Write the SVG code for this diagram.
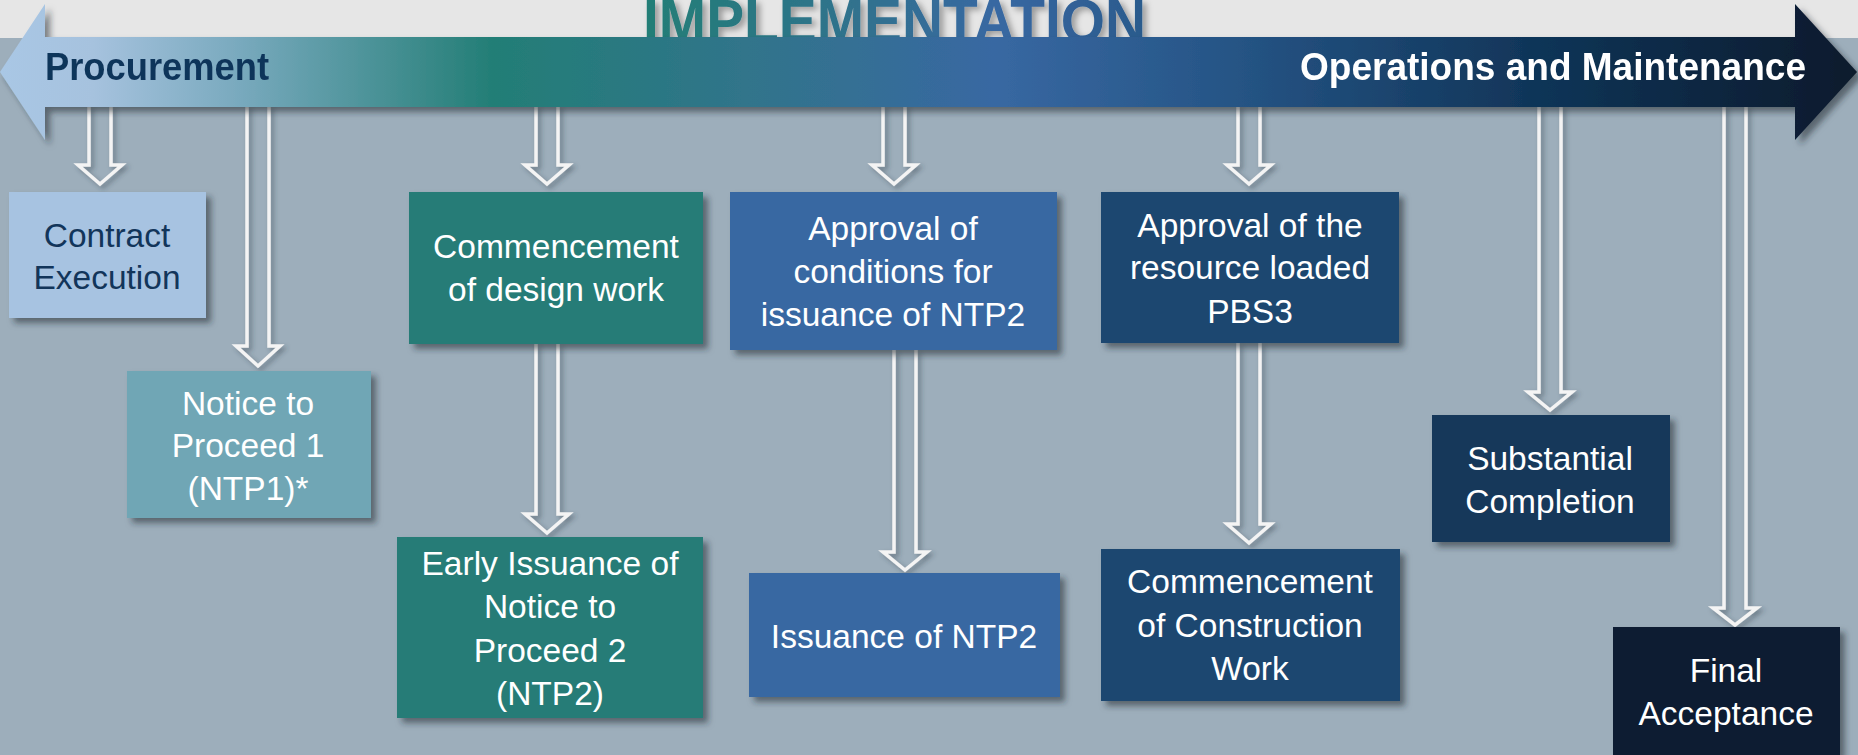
<svg xmlns="http://www.w3.org/2000/svg" width="1858" height="755" viewBox="0 0 1858 755">
<defs>
<linearGradient id="band" gradientUnits="userSpaceOnUse" x1="0" y1="0" x2="1858" y2="0">
<stop offset="0" stop-color="#a9c7e5"/>
<stop offset="0.05" stop-color="#a6c2de"/>
<stop offset="0.13" stop-color="#78a9bd"/>
<stop offset="0.265" stop-color="#237e76"/>
<stop offset="0.43" stop-color="#33728f"/>
<stop offset="0.535" stop-color="#3868a2"/>
<stop offset="0.66" stop-color="#265586"/>
<stop offset="0.82" stop-color="#11365a"/>
<stop offset="1" stop-color="#0a1a2c"/>
</linearGradient>
<linearGradient id="title" gradientUnits="userSpaceOnUse" x1="643" y1="0" x2="1147" y2="0">
<stop offset="0" stop-color="#237e76"/>
<stop offset="0.45" stop-color="#31718f"/>
<stop offset="0.7" stop-color="#3868a2"/>
<stop offset="1" stop-color="#2a5a8c"/>
</linearGradient>
<filter id="sh" x="-10%" y="-10%" width="130%" height="130%">
<feDropShadow dx="5" dy="5" stdDeviation="3" flood-color="#1c2630" flood-opacity="0.55"/>
</filter>
<filter id="ash" x="-20%" y="-20%" width="160%" height="160%">
<feDropShadow dx="3" dy="3" stdDeviation="2.5" flood-color="#2a3845" flood-opacity="0.45"/>
</filter>
<filter id="tsh" x="-5%" y="-50%" width="110%" height="200%">
<feDropShadow dx="4" dy="3" stdDeviation="3" flood-color="#000" flood-opacity="0.35"/>
</filter>
</defs>
<style>
.box{filter:url(#sh);}
.t{font-family:"Liberation Sans",Arial,sans-serif;font-size:33.5px;text-anchor:middle;fill:#ffffff;}
.dark{fill:#12355a;}
.hdr{font-family:"Liberation Sans",Arial,sans-serif;font-weight:bold;font-size:38px;}
.conn path{fill:none;stroke:#f4f4f4;stroke-width:3.5;stroke-linejoin:miter;}
</style>

<rect x="0" y="0" width="1858" height="755" fill="#9daebb"/>
<rect x="0" y="0" width="1858" height="38" fill="#e6e6e6"/>

<g id="title-text" filter="url(#tsh)">
<text x="643" y="42" font-family="'Liberation Sans',Arial,sans-serif" font-weight="bold" font-size="61" fill="url(#title)" textLength="503" lengthAdjust="spacingAndGlyphs">IMPLEMENTATION</text>
</g>

<g id="connectors" class="conn" filter="url(#ash)">
<path d="M89,105 V165 H78 L100,184 L122,165 H111 V105"/>
<path d="M247,105 V346 H236 L258,366 L280,346 H269 V105"/>
<path d="M536,105 V165 H525 L547,184 L569,165 H558 V105"/>
<path d="M536,344 V514 H525 L547,533 L569,514 H558 V344"/>
<path d="M883,105 V165 H872 L894,184 L916,165 H905 V105"/>
<path d="M894,350 V552 H883 L905,570 L927,552 H916 V350"/>
<path d="M1238,105 V165 H1227 L1249,184 L1271,165 H1260 V105"/>
<path d="M1238,343 V524 H1227 L1249,543 L1271,524 H1260 V343"/>
<path d="M1539,105 V392 H1528 L1550,410 L1572,392 H1561 V105"/>
<path d="M1724,105 V608 H1713 L1735,625 L1757,608 H1746 V105"/>
</g>

<g id="timeline" filter="url(#sh)">
<polygon points="0,72 45,4 45,37 1795,37 1795,4 1857,72 1795,140 1795,107 45,107 45,140" fill="url(#band)"/>
<text class="hdr" x="45" y="80" fill="#10345a" textLength="224" lengthAdjust="spacingAndGlyphs">Procurement</text>
<text class="hdr" x="1300" y="80" fill="#ffffff" textLength="506" lengthAdjust="spacingAndGlyphs">Operations and Maintenance</text>
</g>

<g id="contract-execution">
<rect class="box" x="9" y="192" width="197" height="126" fill="#a7c3e1"/>
<text class="t dark" x="107" y="247">Contract</text>
<text class="t dark" x="107" y="289">Execution</text>
</g>

<g id="ntp1">
<rect class="box" x="127" y="371" width="244" height="147" fill="#70a6b5"/>
<text class="t" x="248" y="415">Notice to</text>
<text class="t" x="248" y="457">Proceed 1</text>
<text class="t" x="248" y="500">(NTP1)*</text>
</g>

<g id="design-work">
<rect class="box" x="409" y="192" width="294" height="152" fill="#257c77"/>
<text class="t" x="556" y="258">Commencement</text>
<text class="t" x="556" y="301">of design work</text>
</g>

<g id="early-ntp2">
<rect class="box" x="397" y="537" width="306" height="181" fill="#257c77"/>
<text class="t" x="550" y="575">Early Issuance of</text>
<text class="t" x="550" y="618">Notice to</text>
<text class="t" x="550" y="662">Proceed 2</text>
<text class="t" x="550" y="705">(NTP2)</text>
</g>

<g id="approval-conditions">
<rect class="box" x="730" y="192" width="327" height="158" fill="#3868a2"/>
<text class="t" x="893" y="240">Approval of</text>
<text class="t" x="893" y="283">conditions for</text>
<text class="t" x="893" y="326">issuance of NTP2</text>
</g>

<g id="issuance-ntp2">
<rect class="box" x="749" y="573" width="311" height="124" fill="#3868a2"/>
<text class="t" x="904" y="648">Issuance of NTP2</text>
</g>

<g id="approval-pbs3">
<rect class="box" x="1101" y="192" width="298" height="151" fill="#1e4670"/>
<text class="t" x="1250" y="237">Approval of the</text>
<text class="t" x="1250" y="279">resource loaded</text>
<text class="t" x="1250" y="323">PBS3</text>
</g>

<g id="construction-work">
<rect class="box" x="1101" y="549" width="299" height="152" fill="#1e4670"/>
<text class="t" x="1250" y="593">Commencement</text>
<text class="t" x="1250" y="637">of Construction</text>
<text class="t" x="1250" y="680">Work</text>
</g>

<g id="substantial-completion">
<rect class="box" x="1432" y="415" width="238" height="127" fill="#12375a"/>
<text class="t" x="1550" y="470">Substantial</text>
<text class="t" x="1550" y="513">Completion</text>
</g>

<g id="final-acceptance">
<rect class="box" x="1613" y="627" width="227" height="128" fill="#0b1e33"/>
<text class="t" x="1726" y="682">Final</text>
<text class="t" x="1726" y="725">Acceptance</text>
</g>
</svg>
